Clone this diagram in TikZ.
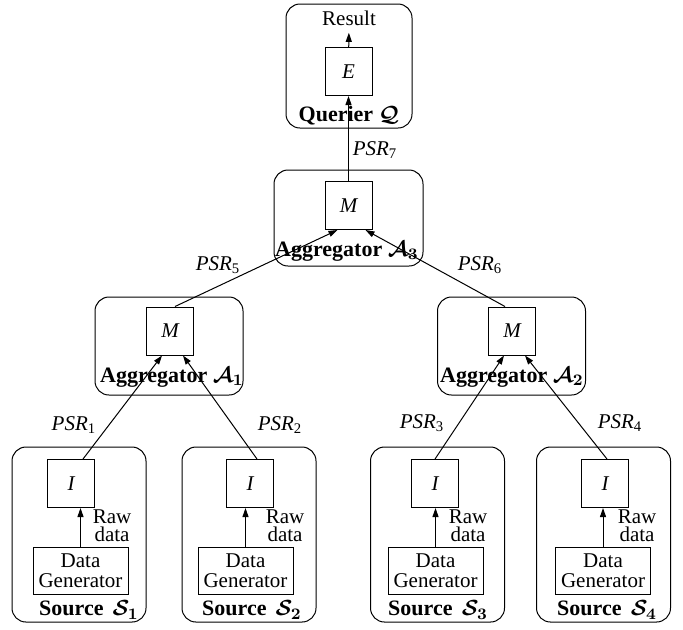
\documentclass[tikz,border=0pt]{standalone}
\usepackage{amsmath,amssymb}
\usepackage{fontspec}
\setmainfont{Liberation Serif}
\usepackage{tikz}
\usetikzlibrary{positioning,arrows.meta}

\begin{document}
\fontsize{10.5}{12}\selectfont
\begin{tikzpicture}[x=0.5pt, y=-0.5pt,
    party/.style={draw, rounded corners=7pt, line width=0.5pt, inner sep=0pt},
    op/.style={draw, line width=0.5pt, minimum width=23.5pt, minimum height=24pt,
               inner sep=0pt, font=\itshape},
    gen/.style={draw, line width=0.5pt, minimum width=47.5pt, minimum height=23.5pt,
                inner sep=0pt, align=center, font=\fontsize{10.5}{10}\selectfont},
    link/.style={line width=0.5pt, -{Triangle[length=4.5pt, width=3pt]}},
    psr/.style={font=\itshape},
    title/.style={font=\fontsize{11}{12}\selectfont\bfseries},
    raw/.style={align=center, inner sep=0pt, font=\fontsize{10.5}{9}\selectfont}]
  \useasboundingbox (0,0) rectangle (683,629);

  % querier
  \node[party, minimum width=63pt, minimum height=62pt] (qbox) at (349,66) {};
  \node[op] (e) at (348.5,71.5) {E};
  \node (res) at (349,18) {Result};
  \node[title] (qlab) at (349,116) {Querier {\boldmath$\mathcal{Q}$}};
  \draw[link] (e) -- (res);

  % aggregators
  \node[party, minimum width=74.5pt, minimum height=48pt] (a3box) at (348.5,218) {};
  \node[op] (m3) at (348.5,205.5) {M};
  \node[title] (a3lab) at (347,251) {Aggregator {\boldmath$\mathcal{A}_3$}};

  \node[party, minimum width=74pt, minimum height=49pt] (a1box) at (169,346) {};
  \node[op] (m1) at (170,331) {M};
  \node[title] (a1lab) at (172,377) {Aggregator {\boldmath$\mathcal{A}_1$}};

  \node[party, minimum width=74pt, minimum height=49pt] (a2box) at (511.5,346) {};
  \node[op] (m2) at (512,331) {M};
  \node[title] (a2lab) at (512,377) {Aggregator {\boldmath$\mathcal{A}_2$}};

  % sources
  \foreach \n/\sx/\ix/\gx/\rx/\lx in {1/79/71/80.5/112/89, 2/249/250/245.5/285/252,
                                      3/437.5/435/435.5/468/438, 4/603.5/605/603/637/607} {
    \node[party, minimum width=67pt, minimum height=87.5pt] (sbox\n) at (\sx,534.5) {};
    \node[op] (i\n) at (\ix,483.5) {I};
    \node[gen] (dg\n) at (\gx,570.5) {Data\\Generator};
    \node[raw] (raw\n) at (\rx,526) {Raw\\data};
    \node[title] (slab\n) at (\lx,610) {Source\, {\boldmath$\mathcal{S}_{\n}$}};
    \draw[link] (dg\n) -- (dg\n |- i\n.south);
  }

  % partial state records
  \draw[link] ([xshift=6pt]i1.north) -- ([xshift=-4pt]m1.south);
  \draw[link] ([xshift=3.5pt]i2.north) -- ([xshift=6.5pt]m1.south);
  \draw[link] (i3.north) -- ([xshift=-4pt]m2.south);
  \draw[link] ([xshift=1pt]i4.north) -- ([xshift=6.5pt]m2.south);
  \draw[link] ([xshift=2.5pt]m1.north) -- ([xshift=-5.5pt]m3.south);
  \draw[link] ([xshift=-3.5pt]m2.north) -- ([xshift=8.5pt]m3.south);
  \draw[link] (m3) -- (e);

  \node[psr] (p1) at (74,425) {PSR\textsubscript{\upshape 1}};
  \node[psr] (p2) at (280,425) {PSR\textsubscript{\upshape 2}};
  \node[psr] (p3) at (422,423) {PSR\textsubscript{\upshape 3}};
  \node[psr] (p4) at (620,423) {PSR\textsubscript{\upshape 4}};
  \node[psr] (p5) at (218,265) {PSR\textsubscript{\upshape 5}};
  \node[psr] (p6) at (480,265) {PSR\textsubscript{\upshape 6}};
  \node[psr] (p7) at (375,150) {PSR\textsubscript{\upshape 7}};
\end{tikzpicture}
\end{document}
